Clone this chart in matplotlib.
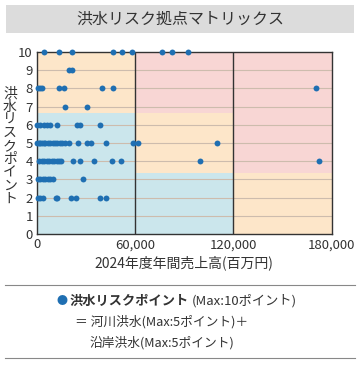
import matplotlib.pyplot as plt
import numpy as np

plt.rcParams['font.family'] = ['Noto Sans CJK JP', 'DejaVu Sans']

# sales (million yen) of sites at each flood-risk point level
p10 = [4500, 13600, 21200, 46600, 52100, 57800, 76200, 82300, 92000]
p9 = [19500, 21300]
p8 = [500, 1800, 3200, 13300, 16300, 39900, 46600, 170200]
p7 = [17100, 30400]
p6 = [300, 2000, 4000, 6000, 8000, 12400, 24600, 26300, 38500]
p5 = [0, 1000, 2000, 3000, 4000, 5000, 6500, 8000, 9500, 11000, 12500, 14000,
      15500, 17000, 19700, 25200, 30700, 32800, 42100, 58800, 61900, 110100]
p4 = [1400, 3000, 4500, 6000, 7500, 9000, 10500, 12000, 13500, 14500,
      21800, 26300, 34800, 45600, 51100, 99600, 172200]
p3 = [400, 2000, 3500, 5000, 6500, 8000, 10000, 28300]
p2 = [400, 2000, 3800, 11600, 12400, 20600, 23800, 38500, 42100]

levels = [10, 9, 8, 7, 6, 5, 4, 3, 2]
groups = [p10, p9, p8, p7, p6, p5, p4, p3, p2]
x = np.concatenate([np.array(g, float) for g in groups])
y = np.concatenate([np.full(len(g), lv) for g, lv in zip(groups, levels)])

xticks = [0, 60000, 120000, 180000]
xticklabels = ['0', '60,000', '120,000', '180,000']

orange = '#fde6c9'
blue = '#cbe6ec'
red = '#f8d6d4'
txt = '#333333'
t1 = 10 / 3
t2 = 20 / 3

fig = plt.figure(figsize=(3.6, 3.66), dpi=100)
ax = fig.add_axes([37 / 360, 1 - 234 / 366, 294.7 / 360, 182 / 366])

# background zones
ax.fill_between([0, 60000], 0, t2, color=blue, lw=0)
ax.fill_between([0, 60000], t2, 10, color=orange, lw=0)
ax.fill_between([60000, 120000], 0, t1, color=blue, lw=0)
ax.fill_between([60000, 120000], t1, t2, color=orange, lw=0)
ax.fill_between([60000, 120000], t2, 10, color=red, lw=0)
ax.fill_between([120000, 180000], 0, t1, color=orange, lw=0)
ax.fill_between([120000, 180000], t1, 10, color=red, lw=0)

for v in range(1, 10):
    ax.axhline(v, color='#cdbcad', lw=0.8, zorder=1)
for v in [60000, 120000]:
    ax.axvline(v, color='#333333', lw=1.0, zorder=2)

ax.scatter(x, y, s=18, color='#1f6fb2', zorder=5, clip_on=False, lw=0)

ax.set_xlim(0, 180000)
ax.set_ylim(0, 10)
ax.set_xticks(xticks)
ax.set_xticklabels(xticklabels)
ax.set_yticks(range(0, 11))
ax.tick_params(length=0, labelsize=9.5, colors=txt, pad=3)
for s in ax.spines.values():
    s.set_color('#333333')
    s.set_linewidth(1.0)

ax.set_xlabel('2024年度年間売上高(百万円)', fontsize=10, color=txt, labelpad=3)
fig.text(10 / 360, 1 - 146 / 366, '\n'.join('洪水リスクポイント'), fontsize=10,
         color=txt, ha='center', va='center', linespacing=0.92)

# title box
fig.patches.append(plt.Rectangle((6 / 360, 1 - 33 / 366), 348 / 360, 28 / 366,
                                 transform=fig.transFigure, color='#dcdcdc', lw=0))
fig.text(0.5, 1 - 19 / 366, '洪水リスク拠点マトリックス', fontsize=11.5,
         color=txt, ha='center', va='center')

# note area
for yy in [285, 358]:
    fig.add_artist(plt.Line2D([5 / 360, 355 / 360], [1 - yy / 366] * 2,
                              transform=fig.transFigure, color='#888888', lw=0.8))
fig.text(62 / 360, 1 - 301 / 366, '●', fontsize=8, color='#1f6fb2',
         ha='center', va='center')
bold = fig.text(70 / 360, 1 - 301 / 366, '洪水リスクポイント', fontsize=9.5,
                color=txt, ha='left', va='center', fontweight='bold')
fig.add_artist(plt.Annotation('(Max:10ポイント)', xy=(1, 0.5), xycoords=bold,
                              xytext=(1.5, 0), textcoords='offset points',
                              fontsize=9.5, color=txt, ha='left', va='center'))
fig.text(75 / 360, 1 - 322 / 366, '＝ 河川洪水(Max:5ポイント)＋', fontsize=9.2,
         color=txt, ha='left', va='center')
fig.text(89 / 360, 1 - 343 / 366, '沿岸洪水(Max:5ポイント)', fontsize=9.2,
         color=txt, ha='left', va='center')

fig.savefig('out.png', dpi=100)
